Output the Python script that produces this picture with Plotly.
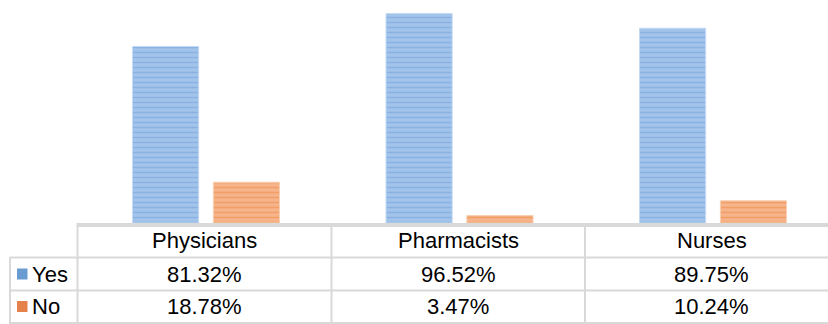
import plotly.graph_objects as go

# ---- data ----
categories = ["Physicians", "Pharmacists", "Nurses"]
series_names = ["Yes", "No"]
yes_values = [81.32, 96.52, 89.75]
no_values = [18.78, 3.47, 10.24]

# ---- layout constants (pixels) ----
W, H = 828, 324
ML, MT, MB = 78, 0, 101
PLOT_W = W - ML
PLOT_H = H - MT - MB
CAT_PX = 253.5
X_RANGE = [-0.5, -0.5 + PLOT_W / CAT_PX]
Y_MAX = PLOT_H / 2.17

FONT = "Liberation Sans, Arial, sans-serif"
FS = 22
GRID = "#d9d9d9"

BLUE_BG, BLUE_FG = "#a3c4ea", "#6c9fdb"
ORANGE_BG, ORANGE_FG = "#f6b48a", "#ee8744"


def px_x(px):
    return (px - ML) / PLOT_W


def px_y(py):
    return (MT + PLOT_H - py) / PLOT_H


fig = go.Figure()
fig.add_trace(go.Bar(
    x=categories, y=yes_values, name=series_names[0],
    width=0.261, offset=-0.285,
    marker=dict(color=BLUE_BG,
                pattern=dict(shape="-", bgcolor=BLUE_BG, fgcolor=BLUE_FG,
                             size=5, solidity=0.3),
                line=dict(width=1, color="#c4daf3")),
))
fig.add_trace(go.Bar(
    x=categories, y=no_values, name=series_names[1],
    width=0.261, offset=0.034,
    marker=dict(color=ORANGE_BG,
                pattern=dict(shape="-", bgcolor=ORANGE_BG, fgcolor=ORANGE_FG,
                             size=5, solidity=0.3),
                line=dict(width=1, color="#f9d0b3")),
))

shapes = []
annotations = []

# table horizontal lines
for py in [257.5, 290.5, 323.0]:
    shapes.append(dict(type="line", xref="paper", yref="paper",
                       x0=px_x(10), x1=px_x(W + 20), y0=px_y(py), y1=px_y(py),
                       line=dict(color=GRID, width=2)))
# left edge of legend column
shapes.append(dict(type="line", xref="paper", yref="paper",
                   x0=px_x(10), x1=px_x(10), y0=px_y(257), y1=px_y(H + 5),
                   line=dict(color=GRID, width=2)))
# left edge of plot/table
shapes.append(dict(type="line", xref="paper", yref="paper",
                   x0=px_x(77.5), x1=px_x(77.5), y0=px_y(223), y1=px_y(H + 5),
                   line=dict(color=GRID, width=2)))
# category boundaries
for i in range(len(categories) - 1):
    shapes.append(dict(type="line", xref="x", yref="paper",
                       x0=i + 0.5, x1=i + 0.5, y0=px_y(226), y1=px_y(H + 5),
                       line=dict(color=GRID, width=2)))

# header row
for i, c in enumerate(categories):
    annotations.append(dict(x=i, y=px_y(240), xref="x", yref="paper",
                            text=c, showarrow=False, yanchor="middle",
                            font=dict(family=FONT, size=FS, color="#000000")))

# value rows
row_y = [274, 306.5]
for r, (name, vals, col) in enumerate([(series_names[0], yes_values, "#6a9bd0"),
                                        (series_names[1], no_values, "#e5814a")]):
    for i, v in enumerate(vals):
        annotations.append(dict(x=i, y=px_y(row_y[r]), xref="x", yref="paper",
                                text=f"{v:.2f}%", showarrow=False, yanchor="middle",
                                font=dict(family=FONT, size=FS, color="#000000")))
    annotations.append(dict(x=px_x(29.5), y=px_y(row_y[r]), xref="paper", yref="paper",
                            text=name, showarrow=False, xanchor="left", yanchor="middle",
                            font=dict(family=FONT, size=FS, color="#000000")))
    shapes.append(dict(type="rect", xref="paper", yref="paper",
                       x0=px_x(17), x1=px_x(27.5),
                       y0=px_y(row_y[r] - 5.5), y1=px_y(row_y[r] + 5.5),
                       fillcolor=col, line=dict(width=0)))

fig.update_layout(
    width=W, height=H,
    margin=dict(l=ML, r=0, t=MT, b=MB, pad=0),
    paper_bgcolor="white", plot_bgcolor="white",
    barmode="overlay",
    showlegend=False,
    xaxis=dict(range=X_RANGE, showticklabels=False, ticks="", showgrid=False,
               zeroline=False, showline=True, linecolor=GRID, linewidth=4,
               fixedrange=True),
    yaxis=dict(range=[0, Y_MAX], visible=False, showgrid=False, zeroline=False,
               fixedrange=True),
    shapes=shapes,
    annotations=annotations,
)

fig.write_html("out.html", config={"displayModeBar": False})
